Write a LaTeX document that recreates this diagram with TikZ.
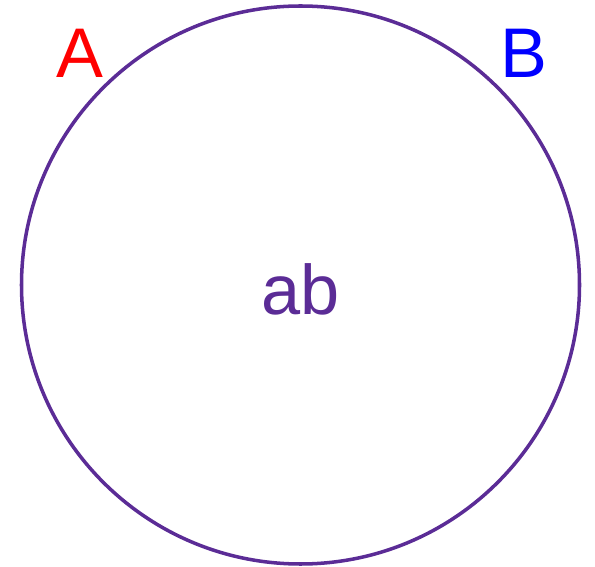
\documentclass[tikz,border=0pt]{standalone}
\usepackage{fontspec}
\setmainfont{Liberation Sans}
\usetikzlibrary{calc}

\begin{document}
\begin{tikzpicture}[x=0.02cm, y=-0.02cm]
    % Define colors
    \definecolor{borderColour}{HTML}{5B2C96}
    \definecolor{colourA}{HTML}{FF0000}
    \definecolor{colourB}{HTML}{0000FF}

    % Define label style
    \tikzset{setLabel/.style={anchor=base, inner sep=0pt, font=\fontsize{40}{48}\selectfont}}

    % Fix the picture size
    \useasboundingbox (0,0) rectangle (595,567);

    % Define the center of the set circle
    \coordinate (Center) at (300.5,285);
    % Draw the set circle
    \draw[draw=borderColour, line width=2pt] (Center) circle (279);

    % Label the circle and its inside
    \node[setLabel, text=colourA] (labelA) at (79.5,78) {A};
    \node[setLabel, text=colourB] (labelB) at (523.5,78) {B};
    \node[setLabel, text=borderColour] (labelAB) at ($(Center)+(0,30)$) {ab};

\end{tikzpicture}
\end{document}
